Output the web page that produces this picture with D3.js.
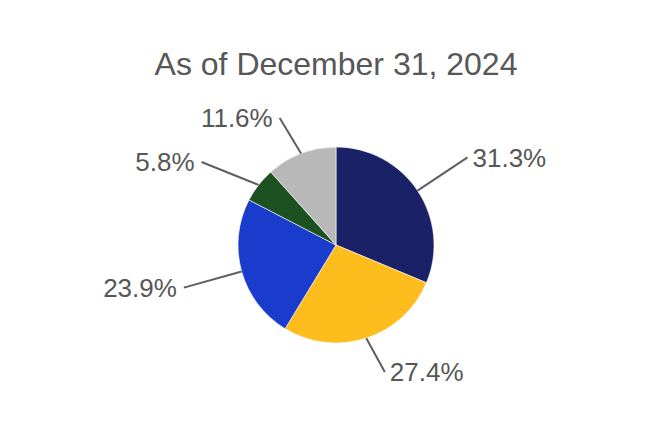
<html>
    <head>
        <title>As of December 31, 2024</title>
        <script src="https://d3js.org/d3.v7.min.js"></script>
        <style>
            body { margin: 0; background-color: #fff; }
            text { font-family: Arial, "Liberation Sans", sans-serif; }
        </style>
    </head>
    <body>
        <div id="pieChart"></div>
    </body>
    <script>
        // slice values (percent), clockwise from 12 o'clock
        var categories = ["A", "B", "C", "D", "E"]
        var values = [31.3, 27.4, 23.9, 5.8, 11.6]
        var colors = ["#1b2166", "#fdbd1c", "#1a3ccc", "#1e5122", "#b8b8b8"]
        var title = "As of December 31, 2024"

        var width = 672, height = 422
        var cx = 336, cy = 245, radius = 98
        var labelRadius = 158, yLimit = 127, minGap = 44

        var svg = d3.select("#pieChart")
            .append("svg")
            .attr("width", width)
            .attr("height", height)

        svg.append("text")
            .attr("x", cx)
            .attr("y", 75)
            .attr("text-anchor", "middle")
            .attr("font-size", 32)
            .attr("fill", "#575757")
            .text(title)

        var g = svg.append("g")
            .attr("transform", "translate(" + cx + "," + cy + ")")

        var pie = d3.pie().sort(null).value(function(d){ return d.value })
        var arcs = pie(values.map(function(v, i){ return {name: categories[i], value: v} }))

        var arc = d3.arc().innerRadius(0).outerRadius(radius)
        var edgeArc = d3.arc().innerRadius(radius).outerRadius(radius)

        g.selectAll("path")
            .data(arcs)
            .enter()
            .append("path")
            .attr("d", arc)
            .attr("fill", function(d, i){ return colors[i] })
            .attr("stroke", "#fff")
            .attr("stroke-width", 0.6)

        // label positions: radial point, clamped vertically, then pushed apart
        var labels = arcs.map(function(d){
            var a = (d.startAngle + d.endAngle) / 2
            var x = labelRadius * Math.sin(a)
            var y = -labelRadius * Math.cos(a)
            var clamped = Math.max(-yLimit, Math.min(yLimit, y))
            return {d: d, start: edgeArc.centroid(d), x: x, y: clamped, right: x >= 0}
        })

        ;[true, false].forEach(function(side){
            var list = labels.filter(function(l){ return l.right === side })
                .sort(function(a, b){ return a.y - b.y })
            for (var i = 1; i < list.length; i++) {
                if (list[i].y - list[i-1].y < minGap) {
                    list[i].y = list[i-1].y + minGap
                    var dx = Math.sqrt(Math.max(0, labelRadius*labelRadius - list[i].y*list[i].y))
                    list[i].x = side ? dx : -dx
                }
            }
        })

        g.selectAll("line")
            .data(labels)
            .enter()
            .append("line")
            .attr("x1", function(l){ return l.start[0] })
            .attr("y1", function(l){ return l.start[1] })
            .attr("x2", function(l){ return l.x })
            .attr("y2", function(l){ return l.y })
            .attr("stroke", "#5e5e5e")
            .attr("stroke-width", 2)

        g.selectAll("text.lbl")
            .data(labels)
            .enter()
            .append("text")
            .attr("class", "lbl")
            .attr("x", function(l){ return l.right ? l.x + 5 : l.x - 7 })
            .attr("y", function(l){ return l.y })
            .attr("dy", "0.36em")
            .attr("text-anchor", function(l){ return l.right ? "start" : "end" })
            .attr("font-size", 26)
            .attr("fill", "#575757")
            .text(function(l){ return l.d.value.toFixed(1) + "%" })
    </script>
</html>
